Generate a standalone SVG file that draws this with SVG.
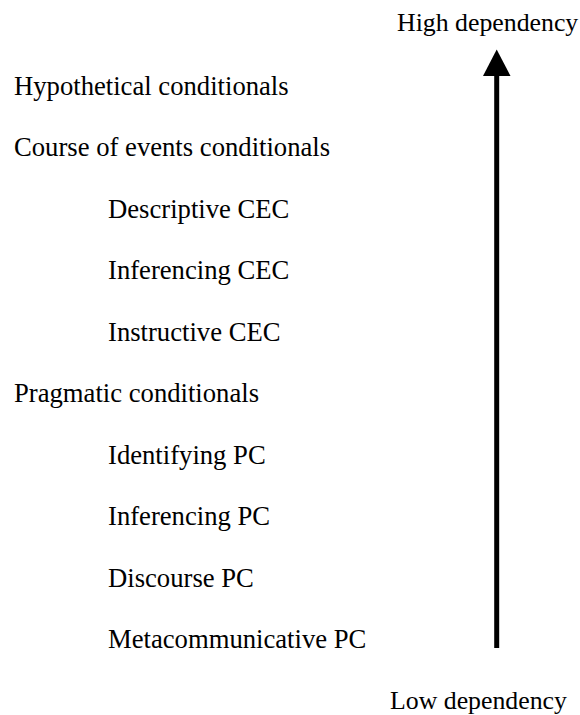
<svg xmlns="http://www.w3.org/2000/svg" width="580" height="715" viewBox="0 0 580 715">
<style>
text{font-family:"Liberation Serif","Times New Roman",serif;font-size:26.67px;fill:#000}
.end{font-size:25.8px}
</style>
<rect width="580" height="715" fill="#fff"/>
<g id="connectors">
<line x1="496.7" y1="648" x2="496.7" y2="74" stroke="#000" stroke-width="5"/>
<polygon points="496.7,49.5 483,76 510.5,76" fill="#000"/>
</g>
<g id="high"><text class="end" x="397" y="31">High dependency</text></g>
<g id="low"><text class="end" x="390" y="709">Low dependency</text></g>
<g id="hc"><text x="14" y="95">Hypothetical conditionals</text></g>
<g id="cec"><text x="14" y="156">Course of events conditionals</text></g>
<g id="dcec"><text x="108" y="218">Descriptive CEC</text></g>
<g id="icec"><text x="108" y="279">Inferencing CEC</text></g>
<g id="inscec"><text x="108" y="341">Instructive CEC</text></g>
<g id="pc"><text x="14" y="402">Pragmatic conditionals</text></g>
<g id="idpc"><text x="108" y="464">Identifying PC</text></g>
<g id="infpc"><text x="108" y="525">Inferencing PC</text></g>
<g id="dpc"><text x="108" y="587">Discourse PC</text></g>
<g id="mpc"><text x="108" y="648">Metacommunicative PC</text></g>
</svg>
